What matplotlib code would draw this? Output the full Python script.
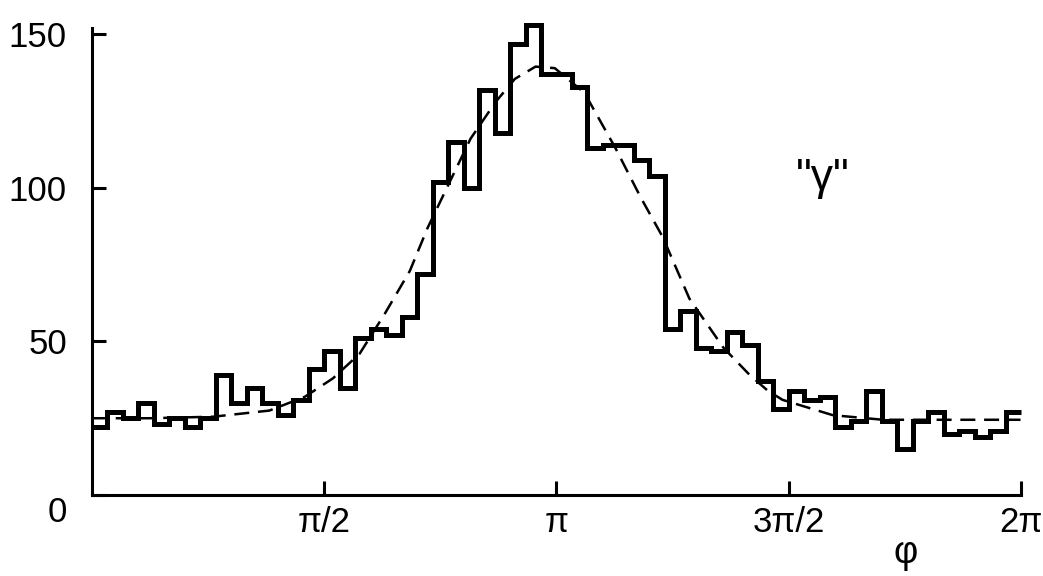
import numpy as np
import matplotlib
matplotlib.use("Agg")
import matplotlib.pyplot as plt
from matplotlib.transforms import ScaledTranslation

plt.rcParams['font.family'] = ['Liberation Sans', 'DejaVu Sans']

# histogram counts, 60 bins over 0..2pi
counts = [22, 27, 25, 30, 23, 25, 22, 25, 39, 30,
          35, 30, 26, 31, 41, 47, 35, 51, 54, 52,
          58, 72, 102, 115, 100, 132, 118, 147, 153, 137,
          137, 133, 113, 114, 114, 109, 104, 54, 60, 48,
          47, 53, 49, 37, 28, 34, 31, 32, 22, 24,
          34, 24, 15, 24, 27, 20, 21, 19, 21, 27]

# dashed curve (phi in rad, counts)
fit_phi = [0.0, 0.39, 0.82, 1.20, 1.44, 1.63, 1.81, 1.98, 2.15, 2.27,
           2.39, 2.56, 2.73, 2.86, 3.00, 3.13, 3.33, 3.54, 3.71, 3.86,
           4.04, 4.27, 4.45, 4.57, 4.67, 5.01, 5.35, 5.80, 6.28]
fit_val = [25, 25, 25.5, 27.5, 32, 38, 46, 59, 73, 87,
           99, 116, 128, 135.5, 139.5, 139, 131, 113, 97, 84,
           64, 48, 39, 34, 31, 26, 24.5, 24.5, 24.5]

xtick_pos = [np.pi / 2, np.pi, 3 * np.pi / 2, 2 * np.pi]
xtick_lbl = ['π/2', 'π', '3π/2', '2π']
ytick_pos = [0, 50, 100, 150]

fig = plt.figure(figsize=(10.43, 5.76), dpi=100)
ax = fig.add_axes([0.0882, 0.1406, 0.8907, 0.8104])

edges = np.linspace(0, 2 * np.pi, len(counts) + 1)
ax.stairs(counts, edges, baseline=None, color='black', linewidth=3.6, clip_on=False)
ax.plot(fit_phi, fit_val, color='black', linewidth=1.8, dashes=(6, 3.5))

ax.set_xlim(0, 2 * np.pi)
ax.set_ylim(0, 152)
for s in ['top', 'right']:
    ax.spines[s].set_visible(False)
for s in ['left', 'bottom']:
    ax.spines[s].set_linewidth(2.2)

ax.set_xticks(xtick_pos)
ax.set_xticklabels(xtick_lbl, fontsize=25)
ax.set_yticks(ytick_pos)
ax.set_yticklabels([str(v) for v in ytick_pos], fontsize=25)
ax.tick_params(axis='both', direction='in', length=10, width=2.2)
ax.tick_params(axis='x', pad=8)
ax.tick_params(axis='y', pad=18)

# the "0" label sits a bit lower in the original
lbl0 = ax.get_yticklabels()[0]
lbl0.set_transform(lbl0.get_transform() + ScaledTranslation(0, -10 / 72, fig.dpi_scale_trans))

ax.text(0.868, 0.04, 'φ', transform=fig.transFigure, fontsize=27, ha='center', va='center')
ax.text(0.789, 0.69, '"γ"', transform=fig.transFigure, fontsize=32, ha='center', va='center')

fig.savefig('out.png', dpi=100)
